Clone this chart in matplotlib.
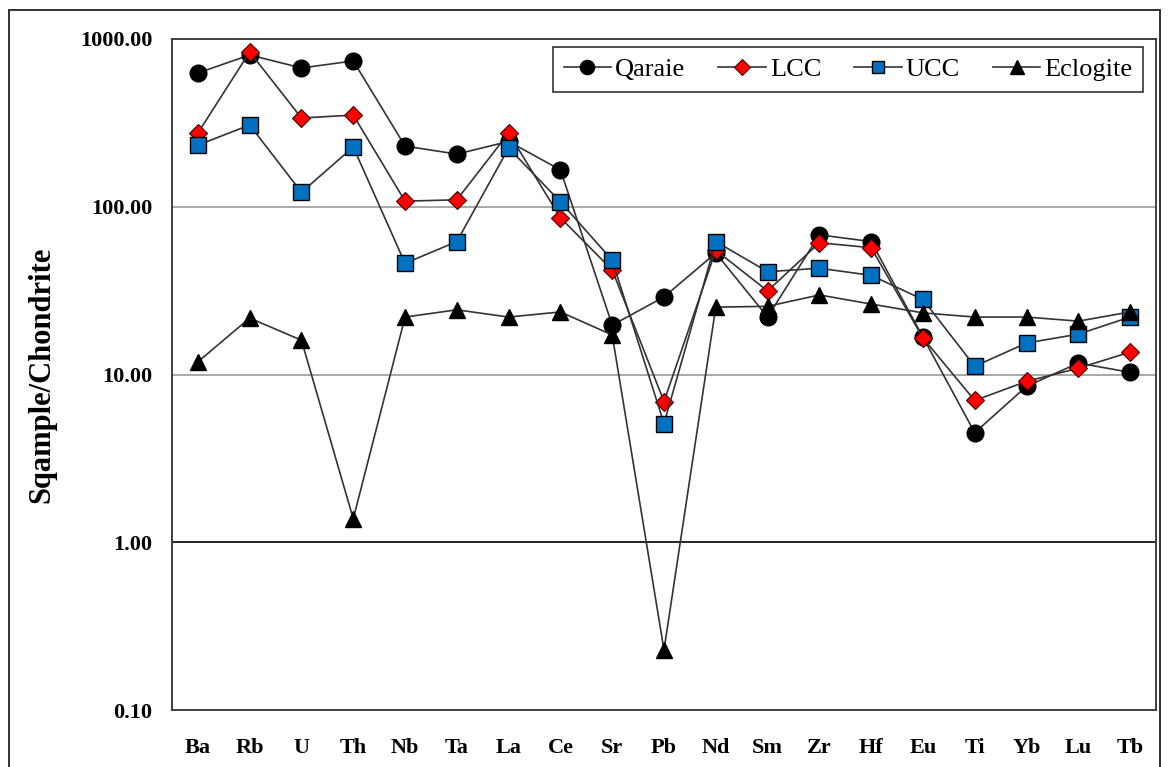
import matplotlib.pyplot as plt
from matplotlib.patches import Rectangle
from matplotlib.ticker import FixedLocator, FuncFormatter, NullLocator

elements = ["Ba", "Rb", "U", "Th", "Nb", "Ta", "La", "Ce", "Sr", "Pb",
            "Nd", "Sm", "Zr", "Hf", "Eu", "Ti", "Yb", "Lu", "Tb"]

qaraie = [627, 803, 672, 740, 230, 206, 245, 166, 19.7, 29,
          53, 22, 68, 62, 16.7, 4.5, 8.5, 11.7, 10.3]
lcc = [275, 837, 338, 352, 108, 110, 275, 86, 42, 6.9,
       55, 31.5, 61, 57, 16.5, 7.0, 9.1, 10.9, 13.6]
ucc = [233, 307, 122, 227, 46, 62, 224, 107, 48, 5.1,
       62, 41, 43, 39, 28, 11.2, 15.4, 17.4, 22]
eclogite = [11.9, 21.7, 16, 1.38, 22, 24.3, 22, 23.6, 17.2, 0.228,
            25.2, 25.5, 29.8, 26.3, 23.3, 22, 22, 20.8, 23.6]

plt.rcParams['font.family'] = ['Liberation Serif', 'DejaVu Serif']

fig = plt.figure(figsize=(11.68, 7.67), dpi=100)
W, H = 1168, 767

# outer chart frame
fig.patches.append(Rectangle((9 / W, -0.01), (1160 - 9) / W, (H - 10) / H + 0.01,
                             transform=fig.transFigure, fill=False,
                             edgecolor='#222222', lw=1.3))

ax = fig.add_axes([172 / W, (H - 710) / H, 984 / W, 671 / H])
x = list(range(len(elements)))
line_col = '#333333'

ax.plot(x, qaraie, color=line_col, lw=1.2, marker='o', ms=12,
        mfc='black', mec='black', label='Qaraie', zorder=3)
ax.plot(x, lcc, color=line_col, lw=1.2, marker='D', ms=9.5,
        mfc='#ff0000', mec='#400000', mew=0.8, label='LCC', zorder=4)
ax.plot(x, ucc, color=line_col, lw=1.2, marker='s', ms=11,
        mfc='#0070c0', mec='black', mew=1.0, label='UCC', zorder=5)
ax.plot(x, eclogite, color=line_col, lw=1.2, marker='^', ms=12,
        mfc='black', mec='black', label='Eclogite', zorder=6)

ax.set_yscale('log')
ax.set_ylim(0.1, 1000)
ax.set_xlim(-0.5, len(elements) - 0.5)

ax.yaxis.set_major_locator(FixedLocator([0.1, 1, 10, 100, 1000]))
ax.yaxis.set_minor_locator(NullLocator())
ax.yaxis.set_major_formatter(FuncFormatter(lambda v, p: f"{v:.2f}"))
for yv in [10, 100]:
    ax.axhline(yv, color='#999999', lw=1.2, zorder=1)
ax.axhline(1, color='black', lw=1.2, zorder=1)

ax.set_xticks(x)
ax.set_xticklabels(elements)
ax.tick_params(axis='both', length=0, labelsize=16)
ax.tick_params(axis='x', pad=20)
ax.tick_params(axis='y', pad=14)
for lab in ax.get_xticklabels() + ax.get_yticklabels():
    lab.set_fontweight('bold')

for sp in ax.spines.values():
    sp.set_color('#333333')
    sp.set_linewidth(1.3)

ax.set_ylabel("Sqample/Chondrite", fontsize=22, fontweight='bold')
ax.yaxis.set_label_coords(-0.118, 0.5)

leg = ax.legend(loc='upper right', bbox_to_anchor=(1 - 13 / 984, 1 - 8 / 671),
                ncol=4, fontsize=19, frameon=True, fancybox=False,
                markerscale=0.85, handlelength=1.8, handletextpad=0.15,
                columnspacing=1.25, borderpad=0.4, borderaxespad=0)
leg.get_frame().set_edgecolor('black')
leg.get_frame().set_linewidth(1.2)

fig.savefig("out.png", dpi=100)
